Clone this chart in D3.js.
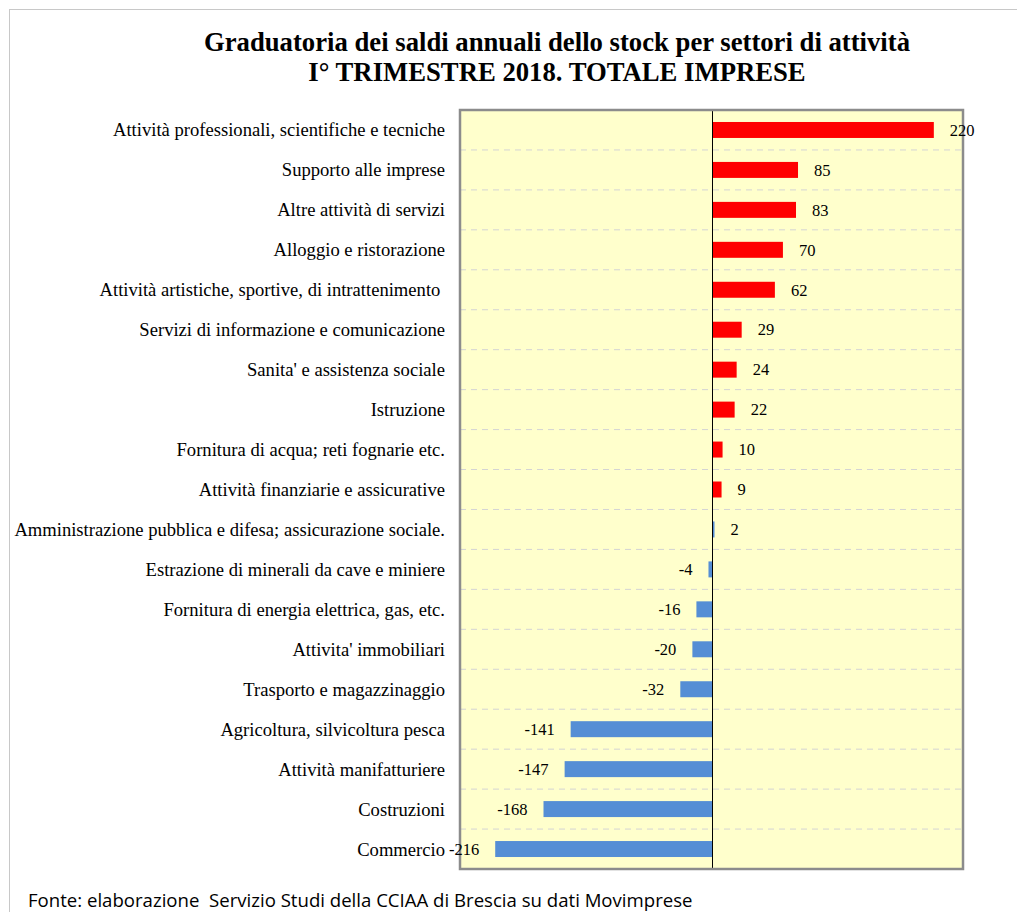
<!DOCTYPE html>
<html lang="it">
<head>
  <meta charset="UTF-8">
  <title>Graduatoria dei saldi annuali dello stock per settori di attività</title>
  <script src="https://cdn.jsdelivr.net/npm/d3@7.9.0/dist/d3.min.js"></script>
  <style>
    html, body {
      margin: 0;
      padding: 0;
      background: #fff;
    }
    svg text {
      font-family: "Liberation Serif", "Times New Roman", serif;
    }
  </style>
</head>
<body>
  <svg id="chart" width="1017" height="912"></svg>

  <script>
    // --- Data ---
    const categories = [
      "Attività professionali, scientifiche e tecniche",
      "Supporto alle imprese",
      "Altre attività di servizi",
      "Alloggio e ristorazione",
      "Attività artistiche, sportive, di intrattenimento ",
      "Servizi di informazione e comunicazione",
      "Sanita' e assistenza sociale",
      "Istruzione",
      "Fornitura di acqua; reti fognarie etc.",
      "Attività finanziarie e assicurative",
      "Amministrazione pubblica e difesa; assicurazione sociale.",
      "Estrazione di minerali da cave e miniere",
      "Fornitura di energia elettrica, gas, etc.",
      "Attivita' immobiliari",
      "Trasporto e magazzinaggio",
      "Agricoltura, silvicoltura pesca",
      "Attività manifatturiere",
      "Costruzioni",
      "Commercio"
    ];
    const values = [220, 85, 83, 70, 62, 29, 24, 22, 10, 9, 2, -4, -16, -20, -32, -141, -147, -168, -216];
    // the first ten sectors are drawn red in the original, the rest blue
    const redCount = 10;
    const titleLines = [
      "Graduatoria dei saldi annuali dello stock per settori di attività",
      "I° TRIMESTRE 2018. TOTALE IMPRESE"
    ];
    const sourceNote = "Fonte: elaborazione  Servizio Studi della CCIAA di Brescia su dati Movimprese";

    const data = categories.map((c, i) => ({ name: c, value: values[i], red: i < redCount }));

    // --- Layout ---
    const plot = { left: 460, right: 963, top: 110, bottom: 869 };
    const svg = d3.select("#chart");

    const x = d3.scaleLinear().domain([-251, 249]).range([plot.left, plot.right]);
    const y = d3.scaleBand()
      .domain(categories)
      .range([plot.top, plot.bottom])
      .paddingInner(0.6)
      .paddingOuter(0.3);

    // outer light frame (top and left only visible)
    svg.append("line")
      .attr("x1", 9).attr("x2", 1017).attr("y1", 9.5).attr("y2", 9.5)
      .attr("stroke", "#c8c8c8").attr("stroke-width", 1);
    svg.append("line")
      .attr("x1", 9.5).attr("x2", 9.5).attr("y1", 9).attr("y2", 912)
      .attr("stroke", "#c8c8c8").attr("stroke-width", 1);

    // title
    svg.append("g")
      .selectAll("text")
      .data(titleLines)
      .join("text")
      .attr("x", 557)
      .attr("y", (d, i) => 51 + i * 30)
      .attr("text-anchor", "middle")
      .attr("font-size", 26.7)
      .attr("font-weight", "bold")
      .text(d => d);

    // plot background
    svg.append("rect")
      .attr("x", plot.left).attr("y", plot.top)
      .attr("width", plot.right - plot.left).attr("height", plot.bottom - plot.top)
      .attr("fill", "#ffffcc");

    // dashed row separators
    const step = y.step();
    const separators = categories.slice(1).map(c => y(c) - step * y.paddingInner() / 2);
    svg.append("g")
      .selectAll("line")
      .data(separators)
      .join("line")
      .attr("x1", plot.left).attr("x2", plot.right)
      .attr("y1", d => d).attr("y2", d => d)
      .attr("stroke", "#d4d4d4")
      .attr("stroke-width", 1)
      .attr("stroke-dasharray", "6,5");

    // bars
    svg.append("g")
      .selectAll("rect")
      .data(data)
      .join("rect")
      .attr("x", d => x(Math.min(0, d.value)))
      .attr("y", d => y(d.name))
      .attr("width", d => Math.abs(x(d.value) - x(0)))
      .attr("height", y.bandwidth())
      .attr("fill", d => d.red ? "#ff0000" : "#558ed5");

    // zero line
    svg.append("line")
      .attr("x1", x(0)).attr("x2", x(0))
      .attr("y1", plot.top).attr("y2", plot.bottom)
      .attr("stroke", "#000").attr("stroke-width", 1);

    // plot frame
    svg.append("rect")
      .attr("x", plot.left).attr("y", plot.top)
      .attr("width", plot.right - plot.left).attr("height", plot.bottom - plot.top)
      .attr("fill", "none")
      .attr("stroke", "#8c8c8c")
      .attr("stroke-width", 2.5);

    // category labels
    svg.append("g")
      .selectAll("text")
      .data(data)
      .join("text")
      .attr("x", 445)
      .attr("y", d => y(d.name) + y.bandwidth() / 2)
      .attr("dy", "0.35em")
      .attr("text-anchor", "end")
      .attr("font-size", 18.6)
      .style("white-space", "pre")
      .text(d => d.name);

    // value labels
    svg.append("g")
      .selectAll("text")
      .data(data)
      .join("text")
      .attr("x", d => d.value >= 0 ? x(d.value) + 16 : x(d.value) - 16)
      .attr("y", d => y(d.name) + y.bandwidth() / 2)
      .attr("dy", "0.35em")
      .attr("text-anchor", d => d.value >= 0 ? "start" : "end")
      .attr("font-size", 16.5)
      .text(d => d.value);

    // source note
    svg.append("text")
      .attr("x", 28)
      .attr("y", 907)
      .attr("font-size", 18.6)
      .style("font-family", "'Open Sans', 'Noto Sans', sans-serif")
      .style("white-space", "pre")
      .text(sourceNote);
  </script>
</body>
</html>
